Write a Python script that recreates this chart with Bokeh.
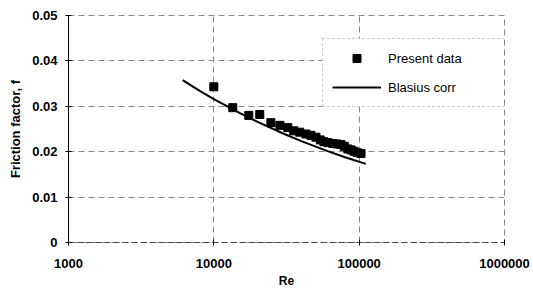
from bokeh.plotting import figure
from bokeh.models import Range1d, FixedTicker, CustomJSTickFormatter
from bokeh.embed import file_html
from bokeh.resources import INLINE

# ---- data ----
re_data = [10000, 13500, 17400, 20700, 24700, 28500, 32300, 35500, 39000, 43000,
           46500, 50400, 54000, 57200, 61000, 65900, 70000, 74800, 79000, 83600,
           88000, 92000, 97000, 103000]
f_data = [0.0343, 0.0297, 0.0280, 0.0282, 0.0264, 0.0258, 0.0253, 0.0246, 0.0243, 0.0239,
          0.0236, 0.0232, 0.0226, 0.0222, 0.0220, 0.0218, 0.0217, 0.0216, 0.0212, 0.0206,
          0.0204, 0.0201, 0.0198, 0.0196]

re_blasius = [6100, 8000, 10000, 15000, 20000, 30000, 40000, 60000, 80000, 111000]
f_blasius = [0.03576, 0.03341, 0.03160, 0.02855, 0.02657, 0.02401, 0.02234, 0.02019, 0.01879, 0.01732]

x_ticks = [1000, 10000, 100000, 1000000]
y_ticks = [0, 0.01, 0.02, 0.03, 0.04, 0.05]

FONT = "Liberation Sans"

p = figure(width=533, height=291, x_axis_type="log",
           x_range=Range1d(1000, 1000000), y_range=Range1d(0, 0.05),
           output_backend="svg", toolbar_location=None,
           min_border_left=68, min_border_right=29, min_border_top=15, min_border_bottom=49)

p.background_fill_color = "white"
p.border_fill_color = "white"
p.outline_line_color = "#888888"
p.outline_line_dash = "6 4"

# grid
p.xgrid.ticker = FixedTicker(ticks=x_ticks)
p.ygrid.ticker = FixedTicker(ticks=y_ticks)
for g in (p.xgrid, p.ygrid):
    g.grid_line_color = "#888888"
    g.grid_line_dash = "6 4"
    g.grid_line_width = 1

# axes
xa = p.xaxis[0]
ya = p.yaxis[0]
xa.ticker = FixedTicker(ticks=x_ticks)
ya.ticker = FixedTicker(ticks=y_ticks)
xa.formatter = CustomJSTickFormatter(code="return Math.round(tick).toString();")
ya.formatter = CustomJSTickFormatter(code="return tick === 0 ? '0' : tick.toFixed(2);")
for ax in (xa, ya):
    ax.major_label_text_font = FONT
    ax.major_label_text_font_style = "bold"
    ax.major_label_text_font_size = "13px"
    ax.major_label_text_color = "black"
    ax.axis_label_text_font = FONT
    ax.axis_label_text_font_style = "bold"
    ax.axis_label_text_font_size = "13px"
    ax.axis_label_text_color = "black"
    ax.major_tick_in = 3
    ax.major_tick_out = 3
    ax.minor_tick_line_color = None
    ax.major_tick_line_color = "black"
xa.axis_label_text_font_size = "12px"
xa.axis_line_color = "#444444"
xa.axis_line_dash = "6 3"
ya.axis_line_color = "black"
xa.axis_label = "Re"
ya.axis_label = "Friction factor, f"
xa.major_label_standoff = 13
xa.axis_label_standoff = 3
ya.major_label_standoff = 8
ya.axis_label_standoff = 6

# glyphs
p.scatter(re_data, f_data, marker="square", size=8, color="black",
          legend_label="Present data")
p.line(re_blasius, f_blasius, line_color="black", line_width=2,
       legend_label="Blasius corr")

lg = p.legend[0]
lg.location = (254, 135)
lg.padding = 9
lg.margin = 0
lg.spacing = 9
lg.glyph_width = 49
lg.glyph_height = 20
lg.label_height = 20
lg.label_width = 107
lg.label_standoff = 7
lg.label_text_font = FONT
lg.label_text_font_size = "13px"
lg.label_text_color = "black"
lg.border_line_color = "#999999"
lg.border_line_dash = "4 3"
lg.background_fill_color = "white"
lg.background_fill_alpha = 1.0

open("out.html", "w").write(file_html(p, INLINE))
